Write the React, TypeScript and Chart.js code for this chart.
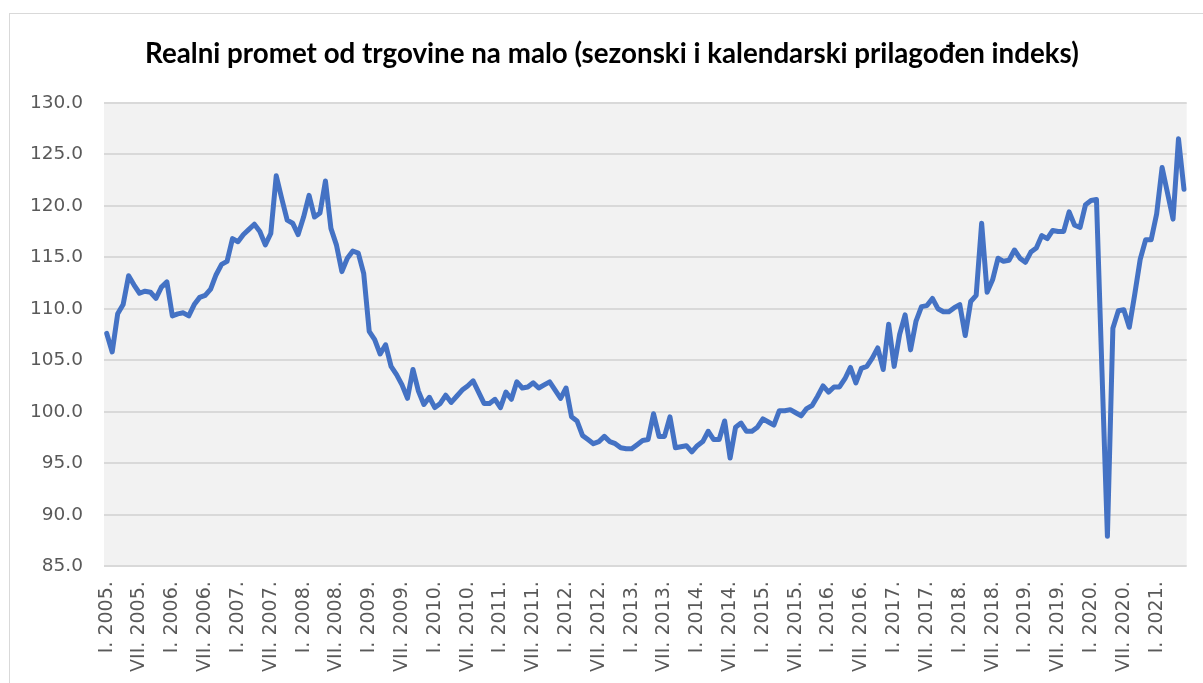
import React, { useEffect, useRef } from "react";
import { Chart, registerables } from "chart.js";

Chart.register(...registerables);

const TITLE =
  "Realni promet od trgovine na malo (sezonski i kalendarski prilagođen indeks)";

const MONTHS = ["I", "II", "III", "IV", "V", "VI", "VII", "VIII", "IX", "X", "XI", "XII"];
const YEARS = [2005, 2006, 2007, 2008, 2009, 2010, 2011, 2012, 2013, 2014, 2015, 2016, 2017, 2018, 2019, 2020, 2021];

const Y_MIN = 85;
const Y_MAX = 130;
const Y_STEP = 5;

const v2005 = [107.6, 105.8, 109.5, 110.4, 113.2, 112.3, 111.5, 111.7, 111.6, 111.0, 112.1, 112.6];
const v2006 = [109.3, 109.5, 109.6, 109.3, 110.4, 111.1, 111.3, 111.9, 113.3, 114.3, 114.6, 116.8];
const v2007 = [116.5, 117.2, 117.7, 118.2, 117.5, 116.2, 117.3, 122.9, 120.7, 118.6, 118.3, 117.2];
const v2008 = [118.9, 121.0, 118.9, 119.3, 122.4, 117.8, 116.2, 113.6, 114.9, 115.6, 115.4, 113.4];
const v2009 = [107.8, 107.0, 105.6, 106.5, 104.4, 103.6, 102.6, 101.3, 104.1, 102.0, 100.7, 101.4];
const v2010 = [100.4, 100.8, 101.6, 100.9, 101.5, 102.1, 102.5, 103.0, 101.9, 100.8, 100.8, 101.2];
const v2011 = [100.4, 101.9, 101.2, 102.9, 102.3, 102.4, 102.8, 102.3, 102.6, 102.9, 102.1, 101.3];
const v2012 = [102.3, 99.5, 99.1, 97.7, 97.3, 96.9, 97.1, 97.6, 97.1, 96.9, 96.5, 96.4];
const v2013 = [96.4, 96.8, 97.2, 97.3, 99.8, 97.6, 97.6, 99.5, 96.5, 96.6, 96.7, 96.1];
const v2014 = [96.7, 97.1, 98.1, 97.3, 97.3, 99.1, 95.5, 98.5, 98.9, 98.1, 98.1, 98.5];
const v2015 = [99.3, 99.0, 98.7, 100.1, 100.1, 100.2, 99.9, 99.6, 100.3, 100.6, 101.5, 102.5];
const v2016 = [101.9, 102.4, 102.4, 103.2, 104.3, 102.8, 104.2, 104.4, 105.2, 106.2, 104.1, 108.5];
const v2017 = [104.4, 107.5, 109.4, 106.0, 108.8, 110.2, 110.3, 111.0, 110.0, 109.7, 109.7, 110.1];
const v2018 = [110.4, 107.4, 110.7, 111.3, 118.3, 111.6, 112.8, 114.9, 114.6, 114.7, 115.7, 114.9];
const v2019 = [114.5, 115.5, 115.9, 117.1, 116.8, 117.6, 117.5, 117.5, 119.4, 118.1, 117.9, 120.1];
const v2020 = [120.5, 120.6, 104.0, 87.9, 108.1, 109.8, 109.9, 108.2, 111.4, 114.8, 116.7, 116.7];
const v2021 = [119.2, 123.7, 121.2, 118.7, 126.5, 121.6];

const SERIES = [
  ...v2005, ...v2006, ...v2007, ...v2008, ...v2009, ...v2010, ...v2011, ...v2012, ...v2013,
  ...v2014, ...v2015, ...v2016, ...v2017, ...v2018, ...v2019, ...v2020, ...v2021,
];

const CATEGORIES = SERIES.map(
  (_, i) => `${MONTHS[i % 12]}. ${YEARS[Math.floor(i / 12)]}.`
);

function fitTitleSize(): number {
  const c = document.createElement("canvas").getContext("2d");
  if (!c) return 22;
  c.font = "bold 100px Lato";
  const w = c.measureText(TITLE).width;
  return (100 * 934) / w;
}

const backgroundPlugin = {
  id: "bgFrame",
  beforeDraw(chart: any) {
    const { ctx, chartArea: a } = chart;
    ctx.save();
    ctx.fillStyle = "#ffffff";
    ctx.fillRect(0, 0, chart.width, chart.height);
    ctx.strokeStyle = "#d9d9d9";
    ctx.lineWidth = 1;
    ctx.strokeRect(9.5, 13.5, 1400, 1000);
    ctx.fillStyle = "#f2f2f2";
    ctx.fillRect(a.left, a.top, a.right - a.left, a.bottom - a.top);
    ctx.restore();
  },
};

export default function App() {
  const ref = useRef<HTMLCanvasElement | null>(null);

  useEffect(() => {
    if (!ref.current) return;
    const s = fitTitleSize();
    const padTop = 54.5 - 0.6 * s;
    const padBottom = 48.2 - 0.6 * s;

    const chart = new Chart(ref.current, {
      type: "line",
      data: {
        labels: CATEGORIES,
        datasets: [
          {
            data: SERIES,
            borderColor: "#4472c4",
            backgroundColor: "#4472c4",
            borderWidth: 5,
            pointRadius: 0,
            pointHoverRadius: 0,
            tension: 0,
            fill: false,
            borderJoinStyle: "round",
            borderCapStyle: "round",
          },
        ],
      },
      options: {
        animation: false,
        responsive: false,
        devicePixelRatio: 1,
        layout: { padding: { left: 26, right: 5.2, top: 0, bottom: 0 } },
        plugins: {
          legend: { display: false },
          tooltip: { enabled: false },
          title: {
            display: true,
            text: TITLE,
            color: "#000000",
            font: { family: "Lato", weight: "bold", size: s, lineHeight: 1.2 },
            padding: { top: padTop, bottom: padBottom },
          },
        },
        scales: {
          x: {
            type: "category",
            offset: true,
            grid: { display: false, drawTicks: false },
            border: { display: false },
            ticks: {
              autoSkip: false,
              minRotation: 90,
              maxRotation: 90,
              padding: 15,
              color: "#595959",
              font: { family: "DejaVu Sans", size: 19 },
              callback: (_v: any, i: number) => {
                const m = i % 12;
                return m === 0 || m === 6 ? CATEGORIES[i] : "";
              },
            },
            afterFit: (scale: any) => {
              scale.height = 116.8;
              scale.paddingLeft = 0;
              scale.paddingRight = 0;
            },
          },
          y: {
            min: Y_MIN,
            max: Y_MAX,
            grid: { color: "#d9d9d9", lineWidth: 2, drawTicks: false },
            border: { display: false },
            ticks: {
              stepSize: Y_STEP,
              padding: 21,
              color: "#595959",
              font: { family: "DejaVu Sans", size: 18.5 },
              callback: (v: any) => Number(v).toFixed(1),
            },
            afterFit: (scale: any) => {
              scale.width = 78;
            },
          },
          yRightSpacer: {
            type: "linear",
            position: "right",
            display: true,
            grid: { display: false, drawTicks: false },
            border: { display: false },
            ticks: { display: false },
            afterFit: (scale: any) => {
              scale.width = 11.1;
              scale.paddingTop = 0;
              scale.paddingBottom = 0;
            },
          },
        },
      },
      plugins: [backgroundPlugin],
    });
    return () => chart.destroy();
  }, []);

  return (
    <div style={{ position: "fixed", left: 0, top: 0, width: 1203, height: 683, background: "#fff" }}>
      <canvas ref={ref} width={1203} height={683} />
    </div>
  );
}
